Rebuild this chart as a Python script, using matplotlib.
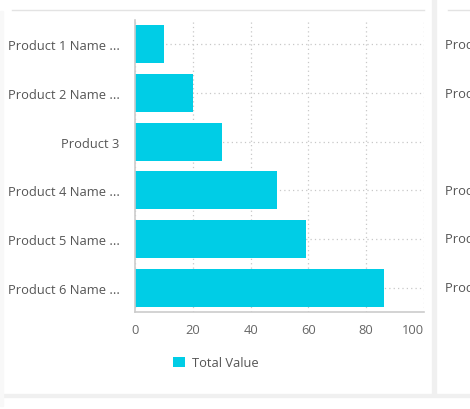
import matplotlib
matplotlib.use("Agg")
import matplotlib.pyplot as plt
from matplotlib.patches import Rectangle
from matplotlib.lines import Line2D

categories = ["Product 1 Name ...", "Product 2 Name ...", "Product 3",
              "Product 4 Name ...", "Product 5 Name ...", "Product 6 Name ..."]
values = [10, 20, 30, 49, 59, 86]
x_ticks = [0, 20, 40, 60, 80, 100]
series_name = "Total Value"

plt.rcParams['font.family'] = ['Open Sans', 'DejaVu Sans']
FS = 9.3

W, H = 470, 410
fig = plt.figure(figsize=(W / 100, H / 100), dpi=100)
fig.patch.set_facecolor('white')

def px(x, y, w, h):
    return (x / W, 1 - (y + h) / H, w / W, h / H)

# panel decorations
for (x, y, w, h) in [(432, 0, 4, 396), (0, 395, 470, 3)]:
    fig.add_artist(Rectangle(px(x, y, w, h)[:2], w / W, h / H,
                             transform=fig.transFigure, color='#f0f0f0', zorder=0))
fig.add_artist(Rectangle((0, 3 / H), 3 / W, 395 / H, transform=fig.transFigure,
                         color='#f8f8f8', zorder=0))
fig.add_artist(Line2D([12 / W, 424 / W], [1 - 10.5 / H] * 2, transform=fig.transFigure,
                      color='#e3e3e3', lw=1))
fig.add_artist(Line2D([448 / W, 1], [1 - 10.5 / H] * 2, transform=fig.transFigure,
                      color='#e3e3e3', lw=1))

ax = fig.add_axes(px(135, 21, 289, 292))
ypos = list(range(len(categories)))
bars = ax.barh(ypos, values, height=0.78, color='#00cde6', zorder=3, label=series_name)
ax.set_ylim(len(categories) - 0.5, -0.5)
ax.set_xlim(0, 100)
ax.set_xticks(x_ticks)
ax.set_yticks(ypos)
ax.set_yticklabels(categories)
ax.grid(True, linestyle=(0, (1, 2.5)), color='#c8c8c8', lw=0.9, zorder=0)
ax.set_axisbelow(True)
for s in ['top', 'right']:
    ax.spines[s].set_visible(False)
for s in ['left', 'bottom']:
    ax.spines[s].set_color('#cccccc')
    ax.spines[s].set_linewidth(1.2)
    ax.spines[s].set_zorder(4)
ax.tick_params(axis='both', length=0, labelsize=FS)
ax.tick_params(axis='x', pad=8, labelcolor='#666666')
ax.tick_params(axis='y', pad=11, labelcolor='#555555')
ax.get_xticklabels()[-1].set_horizontalalignment('right')

# right neighbouring panel labels (cut off, as in the dashboard screenshot)
for i, c in enumerate(categories):
    if c == "Product 3":
        continue
    yc = 21 + 292 * (i + 0.5) / len(categories)
    fig.text(445 / W, 1 - yc / H, c, fontsize=FS, color='#555555', va='center', ha='left')

leg = fig.legend(handles=[bars], labels=[series_name], loc='center',
                 bbox_to_anchor=(216 / W, 1 - 364 / H), frameon=False, fontsize=FS,
                 handlelength=0.9, handleheight=0.9, handletextpad=0.6, labelcolor='#555555')

fig.savefig('out.png', dpi=100)
